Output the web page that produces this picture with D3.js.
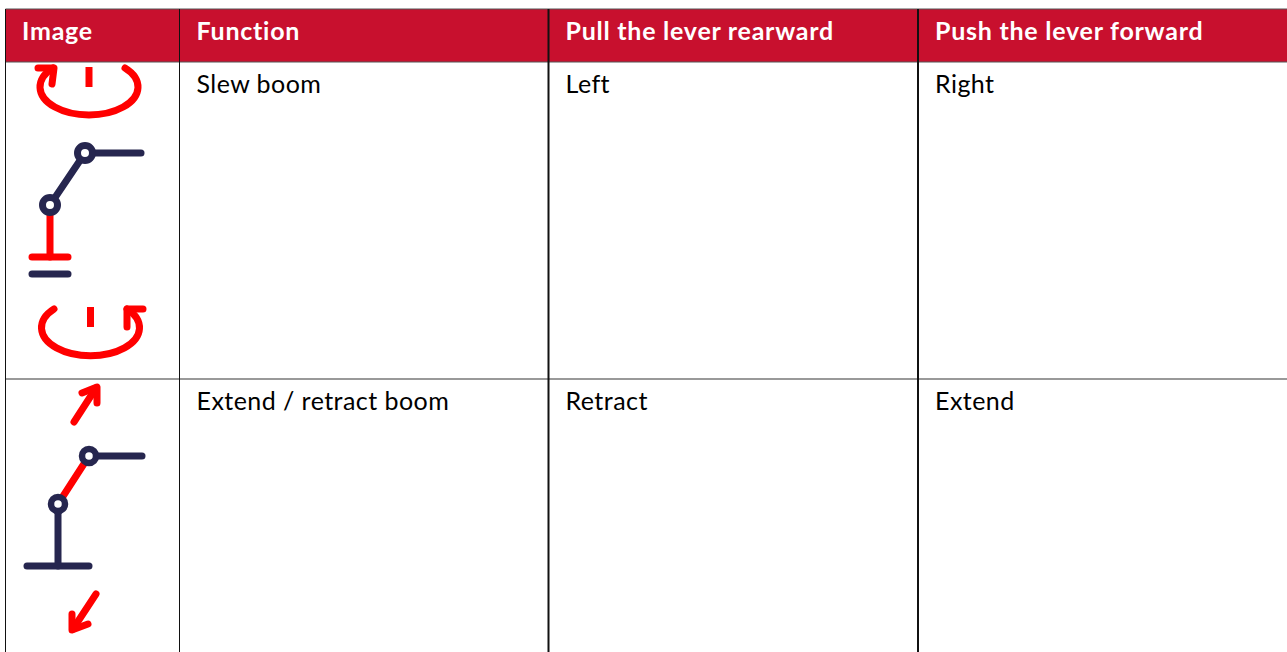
<!DOCTYPE html>
<html lang="en">
  <head>
    <meta charset="UTF-8" />
    <title>Boom lever functions</title>
    <script src="https://d3js.org/d3.v7.min.js"></script>
    <style>
      html, body { margin: 0; background: #fff; overflow: hidden; }
      text { font-family: Lato, "Open Sans", sans-serif; }
    </style>
  </head>
  <body>
    <svg id="table" width="1287" height="652"></svg>
    <script>
      // table content
      const headers = ["Image", "Function", "Pull the lever rearward", "Push the lever forward"];
      const functions = ["Slew boom", "Extend / retract boom"];
      const rearward = ["Left", "Retract"];
      const forward = ["Right", "Extend"];

      const red = "#ff0000";
      const navy = "#26264f";
      const headerFill = "#c8102e";

      const svg = d3.select("#table");

      // column edges and row edges of the table
      const colX = [5.5, 179.5, 548.5, 918, 1287];
      const rowY = [62, 379, 652];
      const textPad = 17;

      svg.append("rect")
        .attr("x", colX[0]).attr("y", 9)
        .attr("width", 1287 - colX[0]).attr("height", 53)
        .attr("fill", headerFill);

      svg.selectAll(".head")
        .data(headers)
        .join("text")
        .attr("class", "head")
        .attr("x", (d, i) => (i === 0 ? 22 : colX[i] + textPad))
        .attr("y", 40)
        .attr("fill", "#fff")
        .attr("font-size", 25)
        .attr("font-weight", 700)
        .attr("letter-spacing", 0.75)
        .text((d) => d);

      [functions, rearward, forward].forEach((col, c) => {
        svg.selectAll(".cell" + c)
          .data(col)
          .join("text")
          .attr("class", "cell" + c)
          .attr("x", colX[c + 1] + textPad)
          .attr("y", (d, i) => rowY[i] + 31)
          .attr("fill", "#000")
          .attr("font-size", 25)
          .attr("letter-spacing", 0.45)
          .text((d) => d);
      });

      // grid lines
      const hline = (y, color, w) =>
        svg.append("line").attr("x1", colX[0]).attr("x2", 1287)
          .attr("y1", y).attr("y2", y).attr("stroke", color).attr("stroke-width", w);
      hline(9, "#555", 1);
      hline(62, "#555", 1);
      hline(379, "#777", 1.5);

      svg.selectAll(".vline")
        .data(colX.slice(0, 4))
        .join("line")
        .attr("class", "vline")
        .attr("x1", (d) => d).attr("x2", (d) => d)
        .attr("y1", 9).attr("y2", 652)
        .attr("stroke", "#111")
        .attr("stroke-width", (d, i) => (i < 2 ? 1 : 2));

      // icon helpers
      const line = d3.line();
      const icons = svg.append("g")
        .attr("fill", "none")
        .attr("stroke-linecap", "round")
        .attr("stroke-linejoin", "round");

      const stroke = (pts, color, w, cap) =>
        icons.append("path").attr("d", line(pts))
          .attr("stroke", color).attr("stroke-width", w)
          .attr("stroke-linecap", cap || "round");

      const joint = (x, y, r, w) =>
        icons.append("circle").attr("cx", x).attr("cy", y).attr("r", r)
          .attr("fill", "#fff").attr("stroke", navy).attr("stroke-width", w);

      const swing = (x0, y0, x1, y1, rx, ry, sweep) =>
        icons.append("path")
          .attr("d", `M${x0},${y0}A${rx},${ry} 0 1 ${sweep} ${x1},${y1}`)
          .attr("stroke", red).attr("stroke-width", 7);

      // slew boom icon
      swing(125, 68, 53, 68, 49, 28, 1);
      stroke([[38, 68], [54, 68], [52, 84]], red, 7);
      stroke([[89, 67], [89, 87]], red, 7, "butt");

      stroke([[50, 209], [50, 257]], red, 7);
      stroke([[32, 257], [68, 257]], red, 7);
      stroke([[32, 274], [68, 274]], navy, 7);
      stroke([[50, 205], [85, 153]], navy, 7);
      stroke([[85, 153], [141, 153]], navy, 7);
      joint(85, 153, 7.5, 7);
      joint(50, 205, 7.5, 7);

      swing(54, 309, 127, 309, 49, 28, 0);
      stroke([[143, 309], [127, 309], [127, 327]], red, 7);
      stroke([[90.5, 307], [90.5, 327]], red, 7, "butt");

      // extend / retract icon
      stroke([[74, 422], [96, 388]], red, 7);
      stroke([[82, 393], [97, 387], [97, 403]], red, 7);

      stroke([[58, 504], [89, 456]], red, 7);
      stroke([[89, 456], [142, 456]], navy, 7);
      stroke([[58, 504], [58, 566]], navy, 7);
      stroke([[27, 566], [89, 566]], navy, 7);
      joint(89, 456, 7, 6.5);
      joint(58, 504, 7, 6.5);

      stroke([[96, 594], [73, 629]], red, 7);
      stroke([[72, 614], [72, 630], [88, 624]], red, 7);
    </script>
  </body>
</html>
